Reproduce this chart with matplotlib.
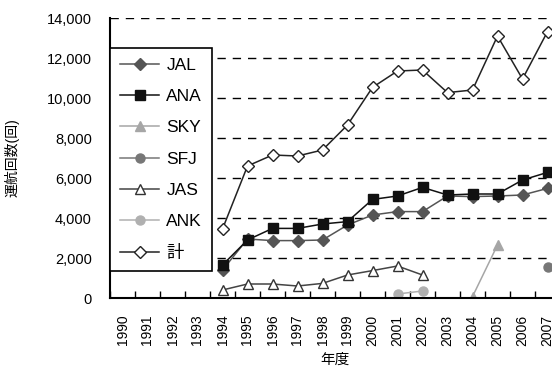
import numpy as np
import matplotlib
matplotlib.use('Agg')
import matplotlib.pyplot as plt

plt.rcParams['font.family'] = ['Liberation Sans', 'Noto Sans CJK JP', 'DejaVu Sans']

years = [str(y) for y in range(1990, 2008)]

# values per series, None = no data
jal = [None, None, None, None, 1400, 2950, 2870, 2870, 2900, 3650, 4150, 4320, 4320, 5100, 5070, 5100, 5150, 5480]
ana = [None, None, None, None, 1650, 2900, 3480, 3480, 3700, 3820, 4930, 5100, 5530, 5150, 5200, 5200, 5900, 6280]
sky = [None] * 14 + [70, 2650, None, None]
sfj = [None] * 17 + [1570]
jas = [None, None, None, None, 400, 700, 700, 600, 730, 1150, 1370, 1600, 1150, None, None, None, None, None]
ank = [None] * 11 + [200, 350] + [None] * 5
total = [None, None, None, None, 3450, 6600, 7150, 7100, 7400, 8650, 10530, 11350, 11400, 10270, 10400, 13100, 10950, 13320]

series = [
    ('JAL', jal, dict(color='#555555', marker='D', mfc='#555555', mec='#555555', ms=6)),
    ('ANA', ana, dict(color='#111111', marker='s', mfc='#111111', mec='#111111', ms=6.5)),
    ('SKY', sky, dict(color='#a6a6a6', marker='^', mfc='#a6a6a6', mec='#a6a6a6', ms=7.5)),
    ('SFJ', sfj, dict(color='#777777', marker='o', mfc='#777777', mec='#777777', ms=6.5)),
    ('JAS', jas, dict(color='#444444', marker='^', mfc='white', mec='#333333', ms=7.5)),
    ('ANK', ank, dict(color='#b0b0b0', marker='o', mfc='#b0b0b0', mec='#b0b0b0', ms=6.5)),
    ('計', total, dict(color='#222222', marker='D', mfc='white', mec='#222222', ms=6)),
]

W, H = 552, 370
fig = plt.figure(figsize=(W / 100, H / 100), dpi=100)
# axes extends beyond the right edge, as in the reference
ax = fig.add_axes([110 / W, (H - 298) / H, 450 / W, 280 / H])

x = np.arange(len(years))
for name, vals, st in series:
    y = np.array([np.nan if v is None else v for v in vals], dtype=float)
    ax.plot(x, y, lw=1.1, label=name, **st)

ax.set_xlim(-0.5, len(years) - 0.5)
ax.set_ylim(0, 14000)
ax.set_yticks(range(0, 14001, 2000))
ax.set_yticklabels([f'{v:,}' for v in range(0, 14001, 2000)], fontsize=10.5)
ax.set_xticks(x)
ax.set_xticklabels(years, rotation=90, fontsize=10)
ax.set_xticks(np.arange(-0.5, len(years), 1), minor=True)
ax.tick_params(axis='x', which='major', length=0, pad=12)
ax.tick_params(axis='x', which='minor', length=5, direction='in', width=1)
ax.tick_params(axis='y', length=0, pad=13)

for v in range(2000, 14001, 2000):
    ax.axhline(v, color='black', lw=1, ls=(0, (6, 5)), zorder=0)

ax.spines['top'].set_visible(False)
ax.spines['right'].set_visible(False)
ax.spines['left'].set_linewidth(1.5)
ax.spines['bottom'].set_linewidth(1.5)

ax.set_ylabel('運航回数(回)', fontsize=10, labelpad=20)
ax.set_xlabel('年度', fontsize=10.5, labelpad=5)

leg = ax.legend(loc='upper left', bbox_to_anchor=(110 / W, 1 - 48 / H),
                bbox_transform=fig.transFigure, fontsize=12.5, frameon=True,
                fancybox=False, edgecolor='black', framealpha=1,
                handlelength=2.3, handletextpad=0.4, labelspacing=0.93,
                borderpad=0.55, borderaxespad=0)
leg.get_frame().set_linewidth(1.2)

fig.savefig('out.png', dpi=100)
